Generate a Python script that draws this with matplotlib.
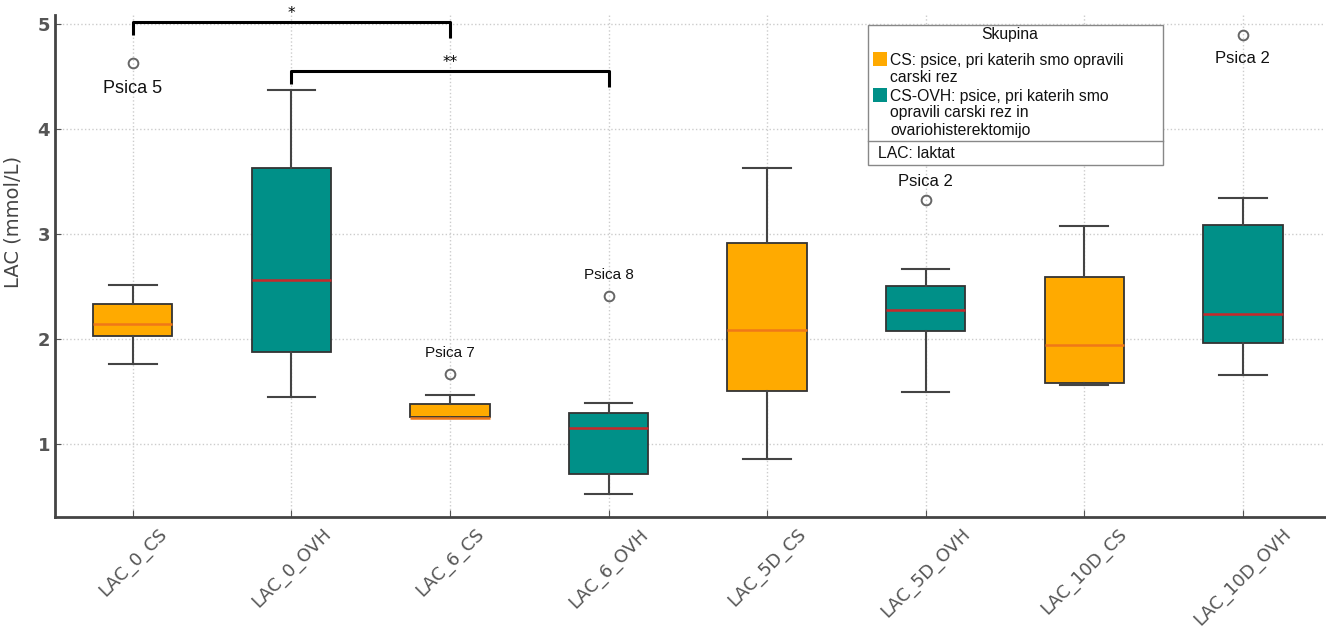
import numpy as np
import matplotlib
matplotlib.use('Agg')
import matplotlib.pyplot as plt
from matplotlib.patches import Rectangle
from matplotlib.lines import Line2D

# data
labels = ['LAC_0_CS', 'LAC_0_OVH', 'LAC_6_CS', 'LAC_6_OVH',
          'LAC_5D_CS', 'LAC_5D_OVH', 'LAC_10D_CS', 'LAC_10D_OVH']
groups = ['CS', 'OVH', 'CS', 'OVH', 'CS', 'OVH', 'CS', 'OVH']
q1 = [2.03, 1.88, 1.26, 0.71, 1.50, 2.08, 1.58, 1.96]
med = [2.14, 2.56, 1.25, 1.15, 2.09, 2.28, 1.94, 2.24]
q3 = [2.33, 3.63, 1.38, 1.29, 2.91, 2.50, 2.59, 3.09]
wlo = [1.76, 1.45, 1.25, 0.52, 0.86, 1.49, 1.56, 1.66]
whi = [2.51, 4.37, 1.47, 1.39, 3.63, 2.67, 3.08, 3.34]
fliers = [[4.63], [], [1.67], [2.41], [], [3.32], [], [4.90]]
flier_names = ['Psica 5', None, 'Psica 7', 'Psica 8', None, 'Psica 2', None, 'Psica 2']
name_offset = [-0.24, 0, 0.20, 0.20, 0, 0.18, 0, -0.23]
name_size = [13, 0, 11, 11, 0, 12, 0, 12]
# significance brackets: (from box, to box, height, label)
brackets = [(1, 3, 5.02, '*'), (2, 4, 4.55, '**')]

colors = {'CS': '#FFAA00', 'OVH': '#009088'}
med_colors = {'CS': '#F07818', 'OVH': '#C8282A'}

fig = plt.figure(figsize=(13.26, 6.28), dpi=100)
ax = fig.add_axes([0.0415, 0.177, 0.958, 0.799])

stats = []
for i in range(len(labels)):
    stats.append({'med': med[i], 'q1': q1[i], 'q3': q3[i],
                  'whislo': wlo[i], 'whishi': whi[i], 'fliers': fliers[i],
                  'label': labels[i]})
pos = np.arange(1, len(labels) + 1)
bp = ax.bxp(stats, positions=pos, widths=0.5, patch_artist=True,
            boxprops=dict(edgecolor='#333333', linewidth=1.3),
            whiskerprops=dict(color='#444444', linewidth=1.5),
            capprops=dict(color='#444444', linewidth=1.5),
            flierprops=dict(marker='o', markerfacecolor='none',
                            markeredgecolor='#666666', markersize=7, markeredgewidth=1.4))
for i, box in enumerate(bp['boxes']):
    box.set_facecolor(colors[groups[i]])
    bp['medians'][i].set_color(med_colors[groups[i]])
    bp['medians'][i].set_linewidth(1.8)
    bp['caps'][2 * i].set_xdata([pos[i] - 0.15, pos[i] + 0.15])
    bp['caps'][2 * i + 1].set_xdata([pos[i] - 0.15, pos[i] + 0.15])

for i, name in enumerate(flier_names):
    if name:
        ax.text(pos[i], fliers[i][0] + name_offset[i], name, ha='center', va='center',
                fontsize=name_size[i], family='Liberation Sans', color='#111111')

for a, b, h, s in brackets:
    ax.plot([a, a, b, b], [h - 0.12, h, h, h - 0.15], color='black', lw=2.2,
            clip_on=False, solid_capstyle='butt')
    ax.text((a + b) / 2 if s == '**' else a + 1, h + 0.01, s, ha='center', va='bottom',
            fontsize=11, clip_on=False)

ax.set_xlim(0.51, 8.52)
ax.set_ylim(0.305, 5.086)
ax.set_yticks([1, 2, 3, 4, 5])
ax.set_xticks(pos)
ax.set_xticklabels(labels, rotation=45, ha='center', fontsize=13, color='#555555')
ax.tick_params(axis='y', labelsize=13, labelcolor='#555555', direction='in',
               length=4, color='#555555')
for t in ax.get_yticklabels():
    t.set_fontweight('bold')
ax.tick_params(axis='x', direction='in', length=5, color='#555555', pad=6)
ax.set_ylabel('LAC (mmol/L)', fontsize=14, color='#444444')
ax.yaxis.set_label_coords(-0.026, 0.588)
ax.grid(True, linestyle=':', color='#cccccc', linewidth=1)
ax.set_axisbelow(True)
for sp in ['top', 'right']:
    ax.spines[sp].set_visible(False)
for sp in ['left', 'bottom']:
    ax.spines[sp].set_color('#444444')
    ax.spines[sp].set_linewidth(2)

# legend box drawn by hand, positions in figure pixels
W, H = 1326.0, 628.0
lf = dict(transform=fig.transFigure, family='Liberation Sans', fontsize=11.3,
          color='#111111', va='center', zorder=7)
fig.add_artist(Rectangle((868 / W, 1 - 165 / H), 295 / W, 140 / H, transform=fig.transFigure,
                         facecolor='white', edgecolor='#888888', lw=1, zorder=5))
fig.add_artist(Line2D([868 / W, 1163 / W], [1 - 141 / H, 1 - 141 / H], transform=fig.transFigure,
                      color='#888888', lw=1, zorder=6))
fig.text(1010 / W, 1 - 34 / H, 'Skupina', ha='center', **lf)
fig.add_artist(Rectangle((873 / W, 1 - 66 / H), 14 / W, 14 / H, transform=fig.transFigure,
                         facecolor=colors['CS'], edgecolor='none', zorder=7))
fig.add_artist(Rectangle((873 / W, 1 - 102 / H), 14 / W, 14 / H, transform=fig.transFigure,
                         facecolor=colors['OVH'], edgecolor='none', zorder=7))
legend_lines = [(890, 60, 'CS: psice, pri katerih smo opravili'),
                (890, 77, 'carski rez'),
                (890, 96, 'CS-OVH: psice, pri katerih smo'),
                (890, 113, 'opravili carski rez in'),
                (890, 130, 'ovariohisterektomijo'),
                (878, 153, 'LAC: laktat')]
for x, y, s in legend_lines:
    fig.text(x / W, 1 - y / H, s, ha='left', **lf)

fig.savefig('out.png', dpi=100)
